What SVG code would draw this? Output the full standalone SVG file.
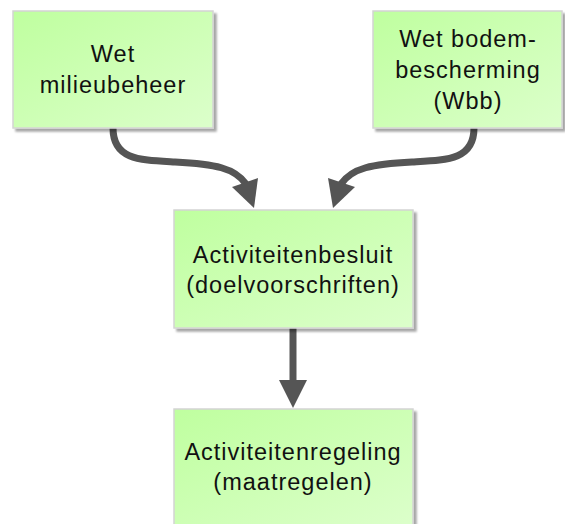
<svg xmlns="http://www.w3.org/2000/svg" width="565" height="524" viewBox="0 0 565 524">
<defs>
<linearGradient id="g" x1="0" y1="0" x2="1" y2="1">
<stop offset="0" stop-color="#bfff9f"/>
<stop offset="1" stop-color="#dcffcb"/>
</linearGradient>
<filter id="sh" x="-10%" y="-10%" width="130%" height="130%">
<feGaussianBlur in="SourceAlpha" stdDeviation="1"/>
<feOffset dx="3" dy="3"/>
<feComponentTransfer><feFuncA type="linear" slope="0.35"/></feComponentTransfer>
<feMerge><feMergeNode/><feMergeNode in="SourceGraphic"/></feMerge>
</filter>
</defs>
<style>
.box{fill:url(#g);stroke:#d4d4d4;stroke-width:1.5;filter:url(#sh)}
.t{font-family:"Liberation Sans",Arial,sans-serif;font-size:23.5px;fill:#111;text-anchor:middle;letter-spacing:1px}
.c{fill:none;stroke:#555;stroke-width:7}
.h{fill:#555}
</style>
<g id="connectors">
<path class="c" d="M113,128 C113,160 140,160 175,162 C215,164 235,168 246,184"/>
<polygon class="h" points="232,187 258,178 254,208"/>
<path class="c" d="M474,128 C474,160 447,160 412,162 C372,164 352,168 341,184"/>
<polygon class="h" points="328,178 355,187 333,208"/>
<path class="c" d="M293,328 L293,382"/>
<polygon class="h" points="279,380 307,380 293,408"/>
</g>
<g id="n1">
<rect class="box" x="13" y="11" width="200" height="117"/>
<text class="t" x="113" y="62">Wet</text>
<text class="t" x="113" y="93">milieubeheer</text>
</g>
<g id="n2">
<rect class="box" x="373" y="11" width="189" height="117"/>
<text class="t" x="468" y="47">Wet bodem-</text>
<text class="t" x="468" y="78">bescherming</text>
<text class="t" x="468" y="109">(Wbb)</text>
</g>
<g id="n3">
<rect class="box" x="174" y="210" width="239" height="118"/>
<text class="t" x="293" y="263">Activiteitenbesluit</text>
<text class="t" x="293" y="293">(doelvoorschriften)</text>
</g>
<g id="n4">
<rect class="box" x="174" y="409" width="239" height="118"/>
<text class="t" x="293" y="460">Activiteitenregeling</text>
<text class="t" x="293" y="490">(maatregelen)</text>
</g>
</svg>
